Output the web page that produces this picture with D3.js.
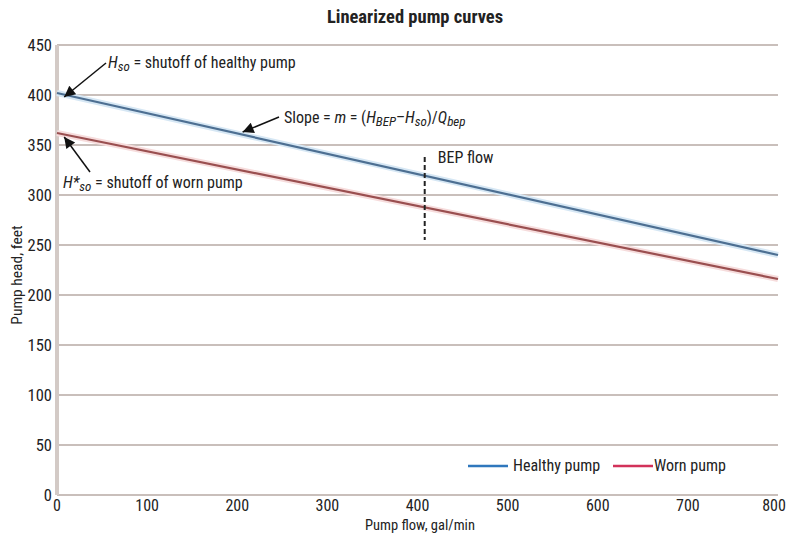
<!DOCTYPE html>
<html><head><meta charset="utf-8">
<script src="https://cdn.jsdelivr.net/npm/d3@7"></script>
<style>
body{margin:0;background:#fff;}
text{font-family:"Liberation Sans Narrow","Roboto Condensed","Arial Narrow",Arial,sans-serif;fill:#222;}
</style></head>
<body><svg id="c" width="789" height="534"></svg>
<script>
const seriesNames = ["Healthy pump","Worn pump"];
const flowPoints = [0, 800];
const healthyHead = [402, 240];
const wornHead = [362, 216];
const bepFlow = 408;
const bepRange = [255, 338];
const xTicks = [0,100,200,300,400,500,600,700,800];
const yTicks = [0,50,100,150,200,250,300,350,400,450];
const colors = ["#2f77bd","#d2325a"];

const svg = d3.select("#c");
const x = d3.scaleLinear().domain([0,800]).range([57,778]);
const y = d3.scaleLinear().domain([0,450]).range([495,45]);

// grid
svg.append("g").selectAll("line").data(yTicks).join("line")
  .attr("x1",57).attr("x2",778).attr("y1",d=>y(d)).attr("y2",d=>y(d))
  .attr("stroke","#c9bfbb").attr("stroke-width",2.2);
// y axis line
svg.append("line").attr("x1",57).attr("x2",57).attr("y1",y(450)).attr("y2",y(0))
  .attr("stroke","#d3cac6").attr("stroke-width",4);

// tick labels
svg.append("g").selectAll("text").data(yTicks).join("text")
  .attr("x",52).attr("y",d=>y(d)+6).attr("text-anchor","end")
  .attr("font-size",16.5).text(d=>d);
svg.append("g").selectAll("text").data(xTicks).join("text")
  .attr("x",d=>Math.min(x(d),774)).attr("y",511).attr("text-anchor","middle")
  .attr("font-size",16).text(d=>d);

svg.append("text").attr("x",415).attr("y",23).attr("text-anchor","middle")
  .attr("font-size",18.5).attr("font-weight","bold").text("Linearized pump curves");
svg.append("text").attr("x",420).attr("y",530).attr("text-anchor","middle")
  .attr("font-size",14.5).text("Pump flow, gal/min");
svg.append("text").attr("transform","translate(22,275) rotate(-90)").attr("text-anchor","middle")
  .attr("font-size",15.5).text("Pump head, feet");

// lines
const line = d3.line().x(d=>x(d[0])).y(d=>y(d[1]));
const series = [healthyHead, wornHead].map(h=>flowPoints.map((f,i)=>[f,h[i]]));
const halo = ["#d6e7f4","#f6dcdc"];
const core = ["#4d6f92","#9a4f50"];
series.forEach((s,i)=>{
  svg.append("path").attr("d",line(s)).attr("fill","none").attr("stroke",halo[i]).attr("stroke-width",6);
  svg.append("path").attr("d",line(s)).attr("fill","none").attr("stroke",core[i]).attr("stroke-width",2.2);
});

// BEP dashed line
svg.append("line").attr("x1",x(bepFlow)).attr("x2",x(bepFlow))
  .attr("y1",y(bepRange[1])).attr("y2",y(bepRange[0]))
  .attr("stroke","#222").attr("stroke-width",2).attr("stroke-dasharray","5,3");
svg.append("text").attr("x",x(bepFlow)+13).attr("y",y(bepRange[1])+6).attr("font-size",16).text("BEP flow");

// arrows
const defs = svg.append("defs");
defs.append("marker").attr("id","ah").attr("viewBox","0 0 10 10").attr("refX",10).attr("refY",5)
  .attr("markerWidth",15).attr("markerHeight",11).attr("markerUnits","userSpaceOnUse").attr("orient","auto")
  .append("path").attr("d","M0,0 L10,5 L0,10 z").attr("fill","#111");
function arrow(x1,y1,x2,y2){
  svg.append("line").attr("x1",x1).attr("y1",y1).attr("x2",x2).attr("y2",y2)
   .attr("stroke","#111").attr("stroke-width",1.5).attr("marker-end","url(#ah)");
}
arrow(106,63, x(8), y(398));
arrow(279,117, x(206), y(363));
arrow(90,172, x(8), y(358));

// annotations
function rich(xp,yp,parts){
  const t = svg.append("text").attr("x",xp).attr("y",yp).attr("font-size",16);
  parts.forEach(p=>{
    const ts = t.append("tspan").text(p.t);
    if(p.i) ts.attr("font-style","italic");
    if(p.sub){ ts.attr("baseline-shift","-25%").attr("font-size",13); }
  });
}
rich(108,68,[{t:"H",i:1},{t:"so",i:1,sub:1},{t:" = shutoff of healthy pump"}]);
rich(284,123,[{t:"Slope = "},{t:"m",i:1},{t:" = ("},{t:"H",i:1},{t:"BEP",i:1,sub:1},{t:"–"},{t:"H",i:1},{t:"so",i:1,sub:1},{t:")/"},{t:"Q",i:1},{t:"bep",i:1,sub:1}]);
rich(63,188,[{t:"H*",i:1},{t:"so",i:1,sub:1},{t:" = shutoff of worn pump"}]);

// legend
const leg = [{x:468,n:0,tx:513},{x:613,n:1,tx:654}];
leg.forEach(l=>{
  svg.append("line").attr("x1",l.x).attr("x2",l.x+40).attr("y1",466).attr("y2",466)
    .attr("stroke",colors[l.n]).attr("stroke-width",2.5);
  svg.append("text").attr("x",l.tx).attr("y",471).attr("font-size",16).text(seriesNames[l.n]);
});
</script></body></html>
